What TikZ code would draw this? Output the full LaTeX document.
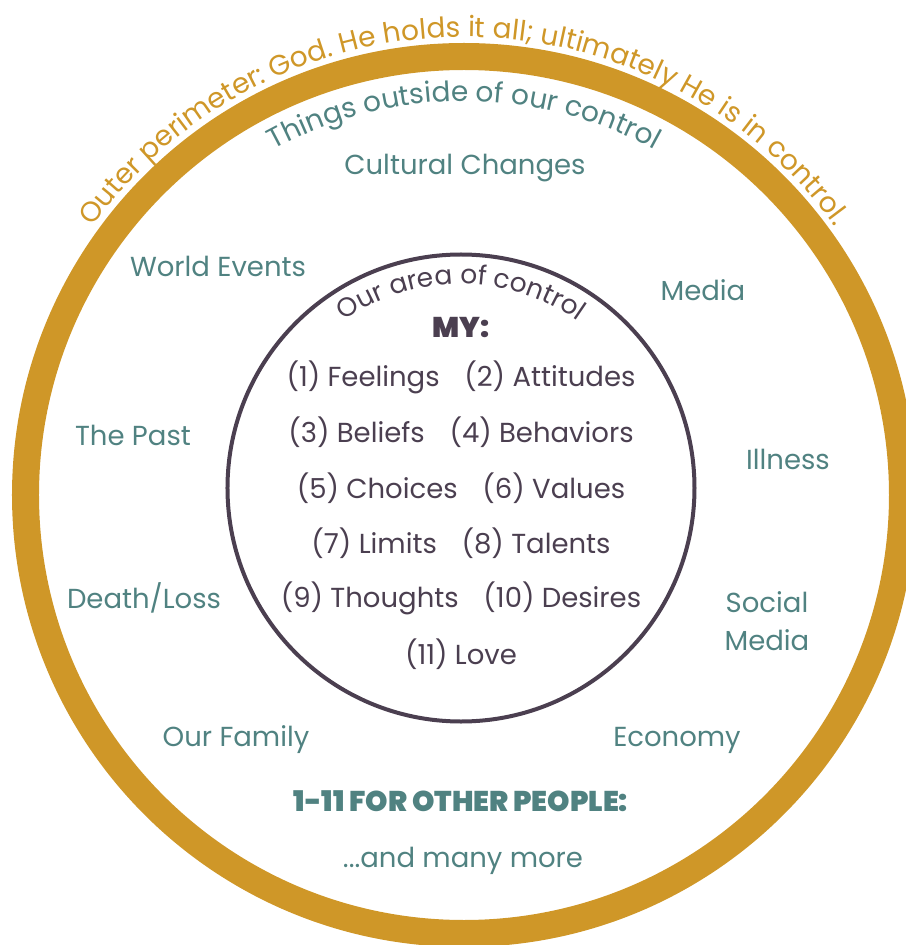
\documentclass[tikz,border=0pt]{standalone}
\usepackage{fontspec}
\setmainfont{Poppins}
\newfontfamily\heavyfont{Poppins Black}
\usetikzlibrary{decorations.text}

\definecolor{ringgold}{RGB}{207,151,40}
\definecolor{outsideteal}{RGB}{80,130,129}
\definecolor{insideplum}{RGB}{75,63,80}
\newcommand{\labelsize}{\fontsize{27.5}{38}\selectfont}

\begin{document}
\begin{tikzpicture}[x=1pt, y=1pt, font=\labelsize,
	outside/.style={text=outsideteal, align=center},
	inside/.style={text=insideplum},
	heading/.style={font=\heavyfont\fontsize{28.5}{32}\selectfont}]
	\useasboundingbox (-464,-450) rectangle (441,495);
	% the two circles (origin at the ring centre)
	\draw[ringgold, line width=27pt] (0,0) circle[radius=438.5];
	\draw[insideplum, line width=4pt] (-3,7) circle[radius=233.5];
	% curved captions
	\path[decorate, decoration={text along path, text align=center,
		text={|\color{ringgold}\fontsize{28}{32}\selectfont|Outer perimeter: God. He holds it all; ultimately He is in control.}}]
		(150:458) arc[start angle=150, end angle=30, radius=458];
	\path[decorate, decoration={text along path, text align=center,
		text={|\color{outsideteal}\fontsize{28}{32}\selectfont|Things outside of our control}}]
		(120:394) arc[start angle=120, end angle=60, radius=394];
	\path[decorate, decoration={text along path, text align=center,
		text={|\color{insideplum}\fontsize{26.5}{30}\selectfont|Our area of control}}]
		([shift={(-3,7)}]130:204) arc[start angle=130, end angle=50, radius=204];
	% things outside of our control
	\node[outside] (cultural) at (1,327) {Cultural Changes};
	\node[outside] (world) at (-246,229) {World Events};
	\node[outside] (media) at (239,205) {Media};
	\node[outside] (past) at (-331,60) {The Past};
	\node[outside] (illness) at (324,36) {Illness};
	\node[outside] (death) at (-320,-103) {Death/Loss};
	\node[outside] (social) at (303,-126) {Social\\Media};
	\node[outside] (family) at (-228,-245) {Our Family};
	\node[outside] (economy) at (213,-245) {Economy};
	\node[outside, heading] (others) at (-3,-306) {1-11 FOR OTHER PEOPLE:};
	\node[outside] (more) at (-1,-366) {...and many more};
	% our area of control
	\node[inside, heading] (my) at (-3,167) {MY:};
	\foreach \row [count=\i] in {{(1) Feelings\hspace{0.9em}(2) Attitudes},
		{(3) Beliefs\hspace{0.9em}(4) Behaviors},
		{(5) Choices\hspace{0.9em}(6) Values},
		{(7) Limits\hspace{0.9em}(8) Talents},
		{(9) Thoughts\hspace{0.9em}(10) Desires},
		{(11) Love}}
	\node[inside] (row\i) at (-3,{118-55.4*(\i-1)}) {\row};
\end{tikzpicture}
\end{document}
